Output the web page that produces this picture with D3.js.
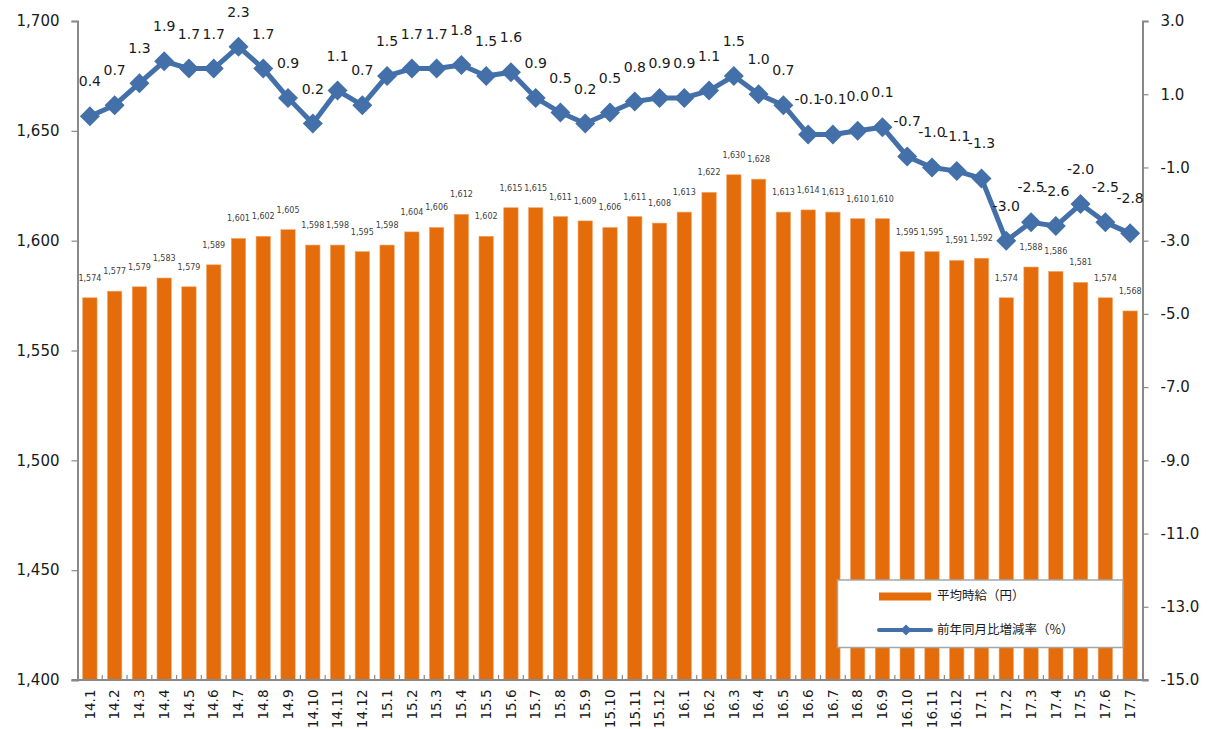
<!DOCTYPE html>
<html>
<head>
<meta charset="utf-8">
<script src="https://cdn.jsdelivr.net/npm/d3@7"></script>
<style>
  html, body { margin: 0; padding: 0; background: #fff; overflow: hidden; }
  svg { display: block; }
</style>
</head>
<body>
<svg id="chart" width="1209" height="729"></svg>
<script>
const categories = [
  "14.1","14.2","14.3","14.4","14.5","14.6","14.7","14.8","14.9","14.10","14.11","14.12",
  "15.1","15.2","15.3","15.4","15.5","15.6","15.7","15.8","15.9","15.10","15.11","15.12",
  "16.1","16.2","16.3","16.4","16.5","16.6","16.7","16.8","16.9","16.10","16.11","16.12",
  "17.1","17.2","17.3","17.4","17.5","17.6","17.7"
];
const wages = [
  1574,1577,1579,1583,1579,1589,1601,1602,1605,1598,1598,1595,
  1598,1604,1606,1612,1602,1615,1615,1611,1609,1606,1611,1608,
  1613,1622,1630,1628,1613,1614,1613,1610,1610,1595,1595,1591,
  1592,1574,1588,1586,1581,1574,1568
];
const rates = [
  0.4,0.7,1.3,1.9,1.7,1.7,2.3,1.7,0.9,0.2,1.1,0.7,
  1.5,1.7,1.7,1.8,1.5,1.6,0.9,0.5,0.2,0.5,0.8,0.9,
  0.9,1.1,1.5,1.0,0.7,-0.1,-0.1,0.0,0.1,-0.7,-1.0,-1.1,
  -1.3,-3.0,-2.5,-2.6,-2.0,-2.5,-2.8
];
const leftTicks = [1400,1450,1500,1550,1600,1650,1700];
const rightTicks = [-15,-13,-11,-9,-7,-5,-3,-1,1,3];
const legendLabels = ["平均時給（円）", "前年同月比増減率（%）"];

(function () {
const ORANGE = "#E46C0A";
const BLUE = "#4370A8";
const AXIS = "#898989";
const FONT = "Verdana, 'DejaVu Sans', sans-serif";

const svg = d3.select("#chart");
const mLeft = 77.5, mRight = 1142.5, mTop = 21, mBottom = 680;

const x = d3.scaleBand().domain(categories).range([mLeft, mRight]).padding(0);
const yL = d3.scaleLinear().domain([1400, 1700]).range([mBottom, mTop]);
const yR = d3.scaleLinear().domain([-15, 3]).range([mBottom, mTop]);
const barW = x.bandwidth() * 0.58;

// Bars
svg.append("g").selectAll("rect").data(wages).join("rect")
  .attr("x", (d, i) => x(categories[i]) + (x.bandwidth() - barW) / 2)
  .attr("y", d => yL(d))
  .attr("width", barW)
  .attr("height", d => yL(1400) - yL(d))
  .attr("fill", ORANGE)
  .attr("stroke", "#F2A56A")
  .attr("stroke-width", 0.6);

// Bar labels
svg.append("g").selectAll("text").data(wages).join("text")
  .attr("x", (d, i) => x(categories[i]) + x.bandwidth() / 2)
  .attr("y", d => yL(d) - 17)
  .attr("text-anchor", "middle")
  .attr("font-family", FONT)
  .attr("font-size", 8)
  .attr("fill", "#404040")
  .text(d => d3.format(",")(d));

// Left axis
const gL = svg.append("g").attr("transform", `translate(${mLeft},0)`)
  .call(d3.axisLeft(yL).tickValues(leftTicks).tickFormat(d3.format(",")).tickSize(6).tickPadding(12));
gL.select(".domain").attr("stroke", AXIS).attr("stroke-width", 2);
gL.selectAll(".tick line").attr("stroke", AXIS).attr("stroke-width", 1.2);
gL.selectAll(".tick text").attr("font-family", FONT).attr("font-size", 15).attr("fill", "#1a1a1a");

// Right axis
const gR = svg.append("g").attr("transform", `translate(${mRight},0)`)
  .call(d3.axisRight(yR).tickValues(rightTicks).tickFormat(d => d.toFixed(1)).tickSize(6).tickPadding(12));
gR.select(".domain").attr("stroke", AXIS).attr("stroke-width", 2);
gR.selectAll(".tick line").attr("stroke", AXIS).attr("stroke-width", 1.2);
gR.selectAll(".tick text").attr("font-family", FONT).attr("font-size", 15).attr("fill", "#1a1a1a");

// Bottom axis
const gB = svg.append("g").attr("transform", `translate(0,${mBottom})`)
  .call(d3.axisBottom(x).tickSize(0).tickPadding(0));
gB.select(".domain").attr("stroke", AXIS).attr("stroke-width", 2).attr("d", `M${mLeft - 6},0H${mRight + 6}`);
gB.selectAll(".tick text")
  .attr("font-family", FONT).attr("font-size", 13.5).attr("fill", "#1a1a1a")
  .attr("transform", "translate(0,9.5) rotate(-90)")
  .attr("text-anchor", "end")
  .attr("x", 0).attr("y", 0).attr("dy", "0.35em");
// category boundary ticks (pointing up)
svg.append("g").selectAll("line").data(categories.slice(1)).join("line")
  .attr("x1", d => x(d)).attr("x2", d => x(d))
  .attr("y1", mBottom).attr("y2", mBottom - 5)
  .attr("stroke", AXIS).attr("stroke-width", 1.2);

// Line
const px = (d, i) => x(categories[i]) + x.bandwidth() / 2;
svg.append("path")
  .datum(rates)
  .attr("d", d3.line().x(px).y(d => yR(d)))
  .attr("fill", "none")
  .attr("stroke", BLUE)
  .attr("stroke-width", 5)
  .attr("stroke-linejoin", "round");

const diamond = r => `M0,${-r}L${r},0L0,${r}L${-r},0Z`;
svg.append("g").selectAll("path").data(rates).join("path")
  .attr("transform", (d, i) => `translate(${px(d, i)},${yR(d)})`)
  .attr("d", diamond(10))
  .attr("fill", BLUE);

// Line labels
svg.append("g").selectAll("text").data(rates).join("text")
  .attr("x", px)
  .attr("y", d => yR(d) - 30)
  .attr("text-anchor", "middle")
  .attr("font-family", FONT)
  .attr("font-size", 14)
  .attr("fill", "#1a1a1a")
  .text(d => d.toFixed(1));

// Legend
const lg = svg.append("g");
lg.append("rect").attr("x", 837.5).attr("y", 580).attr("width", 285.5).attr("height", 67.5)
  .attr("fill", "#fff").attr("stroke", "#A6A6A6").attr("stroke-width", 1.5);
lg.append("rect").attr("x", 879).attr("y", 592.5).attr("width", 52).attr("height", 8).attr("fill", ORANGE);
lg.append("line").attr("x1", 879).attr("x2", 931).attr("y1", 630).attr("y2", 630)
  .attr("stroke", BLUE).attr("stroke-width", 4).attr("stroke-linecap", "round");
lg.append("path").attr("transform", "translate(906,630)").attr("d", diamond(5.5)).attr("fill", BLUE);
lg.selectAll("text.lab").data(legendLabels).join("text")
  .attr("class", "lab")
  .attr("x", 937)
  .attr("y", (d, i) => i === 0 ? 596 : 630)
  .attr("dy", "0.35em")
  .attr("font-family", "'Noto Sans CJK JP', sans-serif")
  .attr("font-size", 12.5)
  .attr("fill", "#1a1a1a")
  .text(d => d);
})();
</script>
</body>
</html>
